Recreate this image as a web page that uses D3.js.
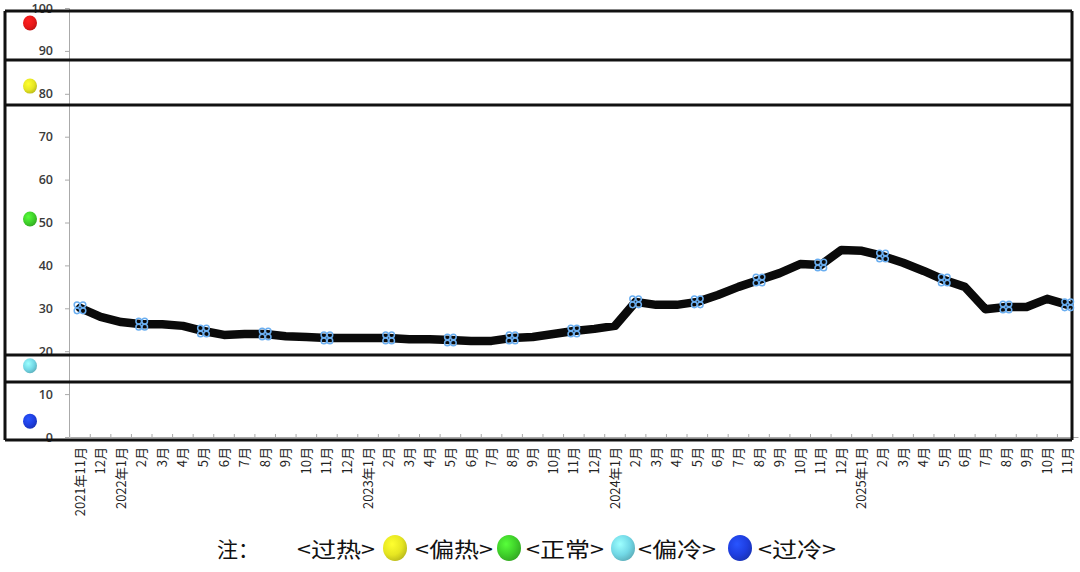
<!DOCTYPE html>
<html><head><meta charset="utf-8">
<script src="https://cdn.jsdelivr.net/npm/d3@7/dist/d3.min.js"></script>
<style>
html,body{margin:0;padding:0;background:#fff;}
svg{display:block;}
</style></head>
<body>
<svg id="chart" width="1080" height="572"></svg>
<script>
// ---- data ----
const categories = ["2021年11月","12月","2022年1月","2月","3月","4月","5月","6月","7月","8月","9月","10月","11月","12月",
  "2023年1月","2月","3月","4月","5月","6月","7月","8月","9月","10月","11月","12月",
  "2024年1月","2月","3月","4月","5月","6月","7月","8月","9月","10月","11月","12月",
  "2025年1月","2月","3月","4月","5月","6月","7月","8月","9月","10月","11月"];
const values = [30.1,28.0,26.8,26.3,26.3,25.9,24.7,23.8,24.0,24.0,23.5,23.3,23.1,23.1,
  23.1,23.1,22.8,22.8,22.6,22.4,22.4,23.1,23.3,24.0,24.7,25.2,
  25.9,31.5,30.8,30.8,31.5,33.1,35.0,36.6,38.2,40.3,40.1,43.6,
  43.4,42.2,40.6,38.7,36.6,35.0,29.8,30.3,30.3,32.2,30.8];
const yTicks = [0,10,20,30,40,50,60,70,80,90,100];
const bandEdges = [99.3,87.9,77.4,19.1,12.8,-0.7];
const lampLevels = [96.5,81.8,50.8,16.6,3.7];
const lampColors = ["#e81818","#e6e622","#3fcf2a","#72d8e6","#1e3ee0"];
const legendLabels = ["<过热>","<偏热>","<正常>","<偏冷>","<过冷>"];
const legendBallColors = ["#e6e622","#3fcf2a","#72d8e6","#1e3ee0"];

const svg = d3.select("#chart");
const idx = d3.range(categories.length);
const y = d3.scaleLinear().domain([0,100]).range([437,8]);
const x = d3.scaleBand().domain(idx).range([69.7,1078]).padding(0);
const frameL = 5, frameR = 1072;

// gradients
const defs = svg.append("defs");
function grad(id,c){
  const g = defs.append("radialGradient").attr("id",id).attr("cx","38%").attr("cy","35%").attr("r","70%");
  g.append("stop").attr("offset","0%").attr("stop-color",d3.color(c).brighter(0.9));
  g.append("stop").attr("offset","60%").attr("stop-color",c);
  g.append("stop").attr("offset","100%").attr("stop-color",d3.color(c).darker(0.6));
}
lampColors.forEach((c,i)=>grad("lg"+i,c));

// y axis
const yAxis = svg.append("g").attr("transform","translate(69,0)")
  .call(d3.axisLeft(y).tickValues(yTicks).tickSize(4).tickPadding(12));
yAxis.select(".domain").attr("stroke","#aaa");
yAxis.selectAll(".tick line").attr("stroke","#aaa");
yAxis.selectAll("text").attr("fill","#3a3a3a").style("font-family","'Open Sans',Arial,sans-serif")
  .style("font-size","12.5px").style("font-weight","600");

// x axis
const xAxis = svg.append("g").attr("transform","translate(0,437)")
  .call(d3.axisBottom(x).tickSize(0).tickFormat(i=>categories[i]));
xAxis.select(".domain").attr("stroke","#aaa");
xAxis.selectAll("text")
  .attr("transform","rotate(-90)").attr("x",-10).attr("y",0).attr("dy","0.35em")
  .attr("text-anchor","end").attr("fill","#222")
  .style("font-family","'Noto Sans CJK SC',sans-serif").style("font-size","13px");
svg.append("g").selectAll("line").data(idx).join("line")
  .attr("x1",d=>x(d)).attr("x2",d=>x(d)).attr("y1",434).attr("y2",437)
  .attr("stroke","#aaa");

// band frame
svg.append("g").selectAll("line").data(bandEdges).join("line")
  .attr("x1",frameL).attr("x2",frameR).attr("y1",d=>y(d)).attr("y2",d=>y(d))
  .attr("stroke","#111").attr("stroke-width",3);
svg.append("g").selectAll("line").data([frameL,frameR]).join("line")
  .attr("x1",d=>d).attr("x2",d=>d).attr("y1",y(bandEdges[0])).attr("y2",y(bandEdges[bandEdges.length-1]))
  .attr("stroke","#111").attr("stroke-width",3);

// lamps
svg.append("g").selectAll("ellipse").data(lampLevels).join("ellipse")
  .attr("cx",30).attr("cy",d=>y(d)).attr("rx",7).attr("ry",7.5)
  .attr("fill",(d,i)=>`url(#lg${i})`);

// line
const cx = i=>x(i)+x.bandwidth()/2;
svg.append("path").datum(values)
  .attr("d",d3.line().x((d,i)=>cx(i)).y(d=>y(d)))
  .attr("fill","none").attr("stroke","#0a0a0a").attr("stroke-width",8.5)
  .attr("stroke-linejoin","round").attr("stroke-linecap","round");

// markers
const mk = svg.append("g").selectAll("g").data(values.map((v,i)=>[i,v]).filter(d=>d[0]%3===0)).join("g")
  .attr("transform",d=>`translate(${cx(d[0])},${y(d[1])})`);
[[-3,-3],[3,-3],[-3,3],[3,3]].forEach(o=>{
  mk.append("circle").attr("cx",o[0]).attr("cy",o[1]).attr("r",2.8)
    .attr("fill","none").attr("stroke","#6aaef0").attr("stroke-width",1.5);
});

// legend
const lf = "'Noto Sans CJK SC',sans-serif";
const leg = svg.append("g").style("font-family",lf).style("font-size","21px").attr("fill","#111");
leg.append("text").attr("x",217).attr("y",557).text("注：");
const labX = [297,415,526,638,758];
leg.selectAll("text.l").data(legendLabels).join("text").attr("class","l")
  .attr("x",(d,i)=>labX[i]).attr("y",557).attr("textLength",78).attr("lengthAdjust","spacingAndGlyphs")
  .text(d=>d);
const ballX = [395,509,623,740];
const lgMap = {"#e6e622":1,"#3fcf2a":2,"#72d8e6":3,"#1e3ee0":4};
svg.append("g").selectAll("ellipse").data(legendBallColors).join("ellipse")
  .attr("cx",(d,i)=>ballX[i]).attr("cy",548).attr("rx",12).attr("ry",13)
  .attr("fill",d=>`url(#lg${lgMap[d]})`);
</script>
</body></html>
